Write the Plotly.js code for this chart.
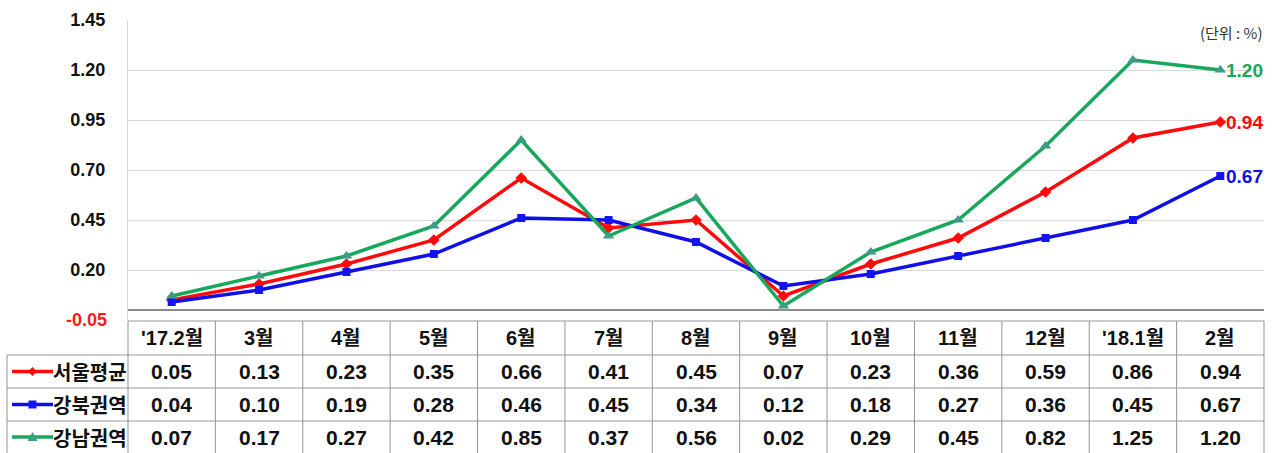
<!DOCTYPE html>
<html>
<head>
<meta charset="utf-8">
<script src="https://cdn.plot.ly/plotly-3.0.1.min.js"></script>
<style>html,body{margin:0;padding:0;background:#fff;}#chart{width:1276px;height:453px;}</style>
</head>
<body>
<div id="chart"></div>
<script>
var categories = ["'17.2월","3월","4월","5월","6월","7월","8월","9월","10월","11월","12월","'18.1월","2월"];
var seriesNames = ["서울평균","강북권역","강남권역"];
var seoul   = [0.05,0.13,0.23,0.35,0.66,0.41,0.45,0.07,0.23,0.36,0.59,0.86,0.94];
var gangbuk = [0.04,0.10,0.19,0.28,0.46,0.45,0.34,0.12,0.18,0.27,0.36,0.45,0.67];
var gangnam = [0.07,0.17,0.27,0.42,0.85,0.37,0.56,0.02,0.29,0.45,0.82,1.25,1.20];
var yTicks  = [-0.05,0.20,0.45,0.70,0.95,1.20,1.45];

var W = 1276, H = 453;
var L = 128, R = 1264, T = 20, B = 320;
function px(x){ return (x - L) / (R - L); }
function py(y){ return (B - y) / (B - T); }

var colors = ['#ff0a0a', '#1010e6', '#17a85c'];
var mColors = ['#ff0a0a', '#1414f0', '#3f9a86'];
var symbols = ['diamond', 'square', 'triangle-up'];
var mSizes = [9, 8, 10];
var allSeries = [seoul, gangbuk, gangnam];

var numFont = "Liberation Sans, Arial, Noto Sans CJK KR, sans-serif";
var krFont = "Noto Sans CJK KR, sans-serif";

var traces = allSeries.map(function(s, k){
  return {
    x: categories, y: s, type: 'scatter', mode: 'lines+markers', name: seriesNames[k],
    line: {color: colors[k], width: 3.5},
    marker: {symbol: symbols[k], size: mSizes[k], color: mColors[k]},
    cliponaxis: false, hoverinfo: 'skip'
  };
});

var shapes = [];
var annotations = [];
var gridCol = '#959595';

var rowLines = [321, 355, 388, 421];
var tableBottom = 455;
var labelLeft = 7;
var n = categories.length;
shapes.push({type:'line', xref:'paper', yref:'paper', x0:0, x1:1, y0:py(321), y1:py(321), line:{color:gridCol, width:1}});
for (var r = 1; r < rowLines.length; r++) {
  shapes.push({type:'line', xref:'paper', yref:'paper', x0:px(labelLeft), x1:1, y0:py(rowLines[r]), y1:py(rowLines[r]), line:{color:gridCol, width:1}});
}
for (var i = 0; i <= n; i++) {
  shapes.push({type:'line', xref:'paper', yref:'paper', x0:i/n, x1:i/n, y0:py(321), y1:py(tableBottom), line:{color:gridCol, width:1}});
}
shapes.push({type:'line', xref:'paper', yref:'paper', x0:px(labelLeft), x1:px(labelLeft), y0:py(355), y1:py(tableBottom), line:{color:gridCol, width:1}});

var headerY = py(338);
categories.forEach(function(c){
  annotations.push({xref:'x', yref:'paper', x:c, y:headerY, text:c, showarrow:false,
    font:{family:numFont, size:20, color:'#111', weight:'bold'}, xanchor:'center', yanchor:'middle'});
});
var rowCenters = [371.5, 404.5, 437];
allSeries.forEach(function(s, k){
  var yc = py(rowCenters[k]);
  s.forEach(function(v, i){
    annotations.push({xref:'x', yref:'paper', x:categories[i], y:yc, text:v.toFixed(2), showarrow:false,
      font:{family:numFont, size:21, color:'#111', weight:'bold'}, xanchor:'center', yanchor:'middle'});
  });
  annotations.push({xref:'paper', yref:'paper', x:px(129), y:yc, text:seriesNames[k], showarrow:false,
    font:{family:krFont, size:20, color:'#111', weight:'bold'}, xanchor:'right', yanchor:'middle'});
  shapes.push({type:'line', xref:'paper', yref:'paper', x0:px(12), x1:px(53), y0:yc, y1:yc, line:{color:colors[k], width:3.5}});
  var cx = 32.5, cy = rowCenters[k];
  var d;
  if (k === 0) {
    d = 'M'+px(cx)+','+py(cy-4.5)+' L'+px(cx+4.5)+','+py(cy)+' L'+px(cx)+','+py(cy+4.5)+' L'+px(cx-4.5)+','+py(cy)+' Z';
  } else if (k === 1) {
    d = 'M'+px(cx-4)+','+py(cy-4)+' L'+px(cx+4)+','+py(cy-4)+' L'+px(cx+4)+','+py(cy+4)+' L'+px(cx-4)+','+py(cy+4)+' Z';
  } else {
    d = 'M'+px(cx)+','+py(cy-5)+' L'+px(cx+5)+','+py(cy+4)+' L'+px(cx-5)+','+py(cy+4)+' Z';
  }
  shapes.push({type:'path', xref:'paper', yref:'paper', path:d, fillcolor:mColors[k], line:{width:0}});
  annotations.push({xref:'x', yref:'y', x:categories[n-1], y:s[n-1], text:s[n-1].toFixed(2), showarrow:false,
    font:{family:numFont, size:19, color:colors[k], weight:'bold'}, xanchor:'left', yanchor:'middle', xshift:4});
});

annotations.push({xref:'paper', yref:'y', x:px(109), y:yTicks[0], text:yTicks[0].toFixed(2), showarrow:false,
  font:{family:numFont, size:18, color:'#ff1a1a', weight:'bold'}, xanchor:'right', yanchor:'middle'});
annotations.push({xref:'paper', yref:'paper', x:px(1264), y:py(32), text:'(단위 : %)', showarrow:false,
  font:{family:krFont, size:15, color:'#333'}, xanchor:'right', yanchor:'middle'});

var layout = {
  width: W, height: H,
  margin: {l: L, r: W - R, t: T, b: H - B, pad: 0},
  paper_bgcolor: '#fff', plot_bgcolor: '#fff',
  showlegend: false,
  xaxis: {type:'category', range:[-0.5, n - 0.5], showticklabels:false, showgrid:false, zeroline:false, showline:false, fixedrange:true},
  yaxis: {range:[yTicks[0], yTicks[yTicks.length-1]], tickvals: yTicks.slice(1), ticktext: yTicks.slice(1).map(function(v){return v.toFixed(2);}),
    showgrid:true, gridcolor:'#d9d9d9', gridwidth:1, zeroline:true, zerolinecolor:'#8c8c8c', zerolinewidth:1.5,
    showline:true, linecolor:'#d9d9d9', linewidth:1, ticks:'', ticklabelstandoff:18,
    tickfont:{family:numFont, size:18, color:'#111', weight:'bold'}, fixedrange:true},
  shapes: shapes,
  annotations: annotations
};

Plotly.newPlot('chart', traces, layout, {staticPlot:true, displayModeBar:false});
</script>
</body>
</html>
